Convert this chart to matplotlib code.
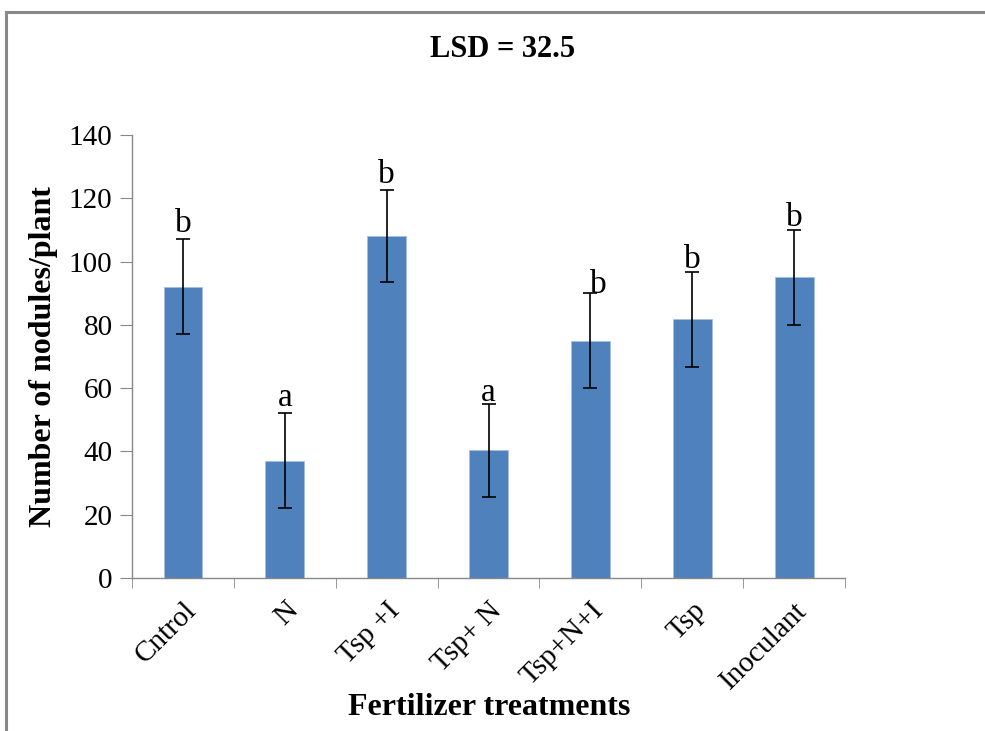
import numpy as np
import matplotlib; matplotlib.use("Agg")
import matplotlib.pyplot as plt
import matplotlib.transforms as mtrans
from matplotlib.lines import Line2D

plt.rcParams['font.family'] = ['Liberation Serif', 'DejaVu Serif']

treatments = ["Cntrol", "N", "Tsp +I", "Tsp+ N", "Tsp+N+I", "Tsp", "Inoculant"]
nodules = [92, 37, 108, 40.3, 75, 81.7, 95]
err = [15, 15, 14.5, 14.8, 15, 15, 15]
letters = ["b", "a", "b", "a", "b", "b", "b"]
letter_dx = [0, 0, 0, 0, 0.08, 0, 0]
letter_dy = [0, 0, 0, -1.5, -2.0, -1, -1]

fig = plt.figure(figsize=(9.85, 7.31), dpi=100)
ax = fig.add_axes([0.134, 0.2093, 0.724, 0.606])
x = np.arange(len(treatments))
ax.bar(x, nodules, width=0.38, color="#4F81BD", edgecolor="#A7C0DE", linewidth=0.6, zorder=2)
ax.errorbar(x, nodules, yerr=err, fmt="none", ecolor="black", elinewidth=1.2,
            capsize=4.8, capthick=1.2, zorder=3)
for xi, m, e, s, dx, dy in zip(x, nodules, err, letters, letter_dx, letter_dy):
    ax.text(xi + dx, m + e + dy, s, ha="center", va="bottom", fontsize=24, zorder=4)

ax.set_xlim(-0.5, len(treatments) - 0.5)
ax.set_ylim(0, 140)
ax.set_yticks(np.arange(0, 141, 20))
ax.set_xticks(x)
ax.set_xticklabels(treatments, rotation=45, ha="right", rotation_mode="anchor", fontsize=21)
shift = mtrans.ScaledTranslation(8 / 100, 0, fig.dpi_scale_trans)
for lab in ax.get_xticklabels():
    lab.set_transform(lab.get_transform() + shift)
ax.set_xticks(np.arange(-0.5, len(treatments), 1), minor=True)
ax.tick_params(axis="x", which="major", length=0, pad=14)
ax.tick_params(axis="x", which="minor", length=7, color="#888888", direction="out")
ax.tick_params(axis="y", length=9, color="#888888", labelsize=21, pad=5)
for s in ["top", "right"]:
    ax.spines[s].set_visible(False)
for s in ["left", "bottom"]:
    ax.spines[s].set_color("#888888")
    ax.spines[s].set_linewidth(1.0)

ax.set_ylabel("Number of nodules/plant", fontsize=23, fontweight="bold", labelpad=8)
fig.text(0.497, 0.012, "Fertilizer treatments", ha="center", va="bottom", fontsize=23, fontweight="bold")
fig.text(0.51, 0.932, "LSD = 32.5", ha="center", va="center", fontsize=22, fontweight="bold")

# outer chart frame
fig.add_artist(Line2D([6/985, 1], [1 - 12/731, 1 - 12/731], transform=fig.transFigure, color="#888888", lw=2.2))
fig.add_artist(Line2D([6/985, 6/985], [0, 1 - 12/731], transform=fig.transFigure, color="#888888", lw=2.2))

fig.savefig("out.png", dpi=100)
